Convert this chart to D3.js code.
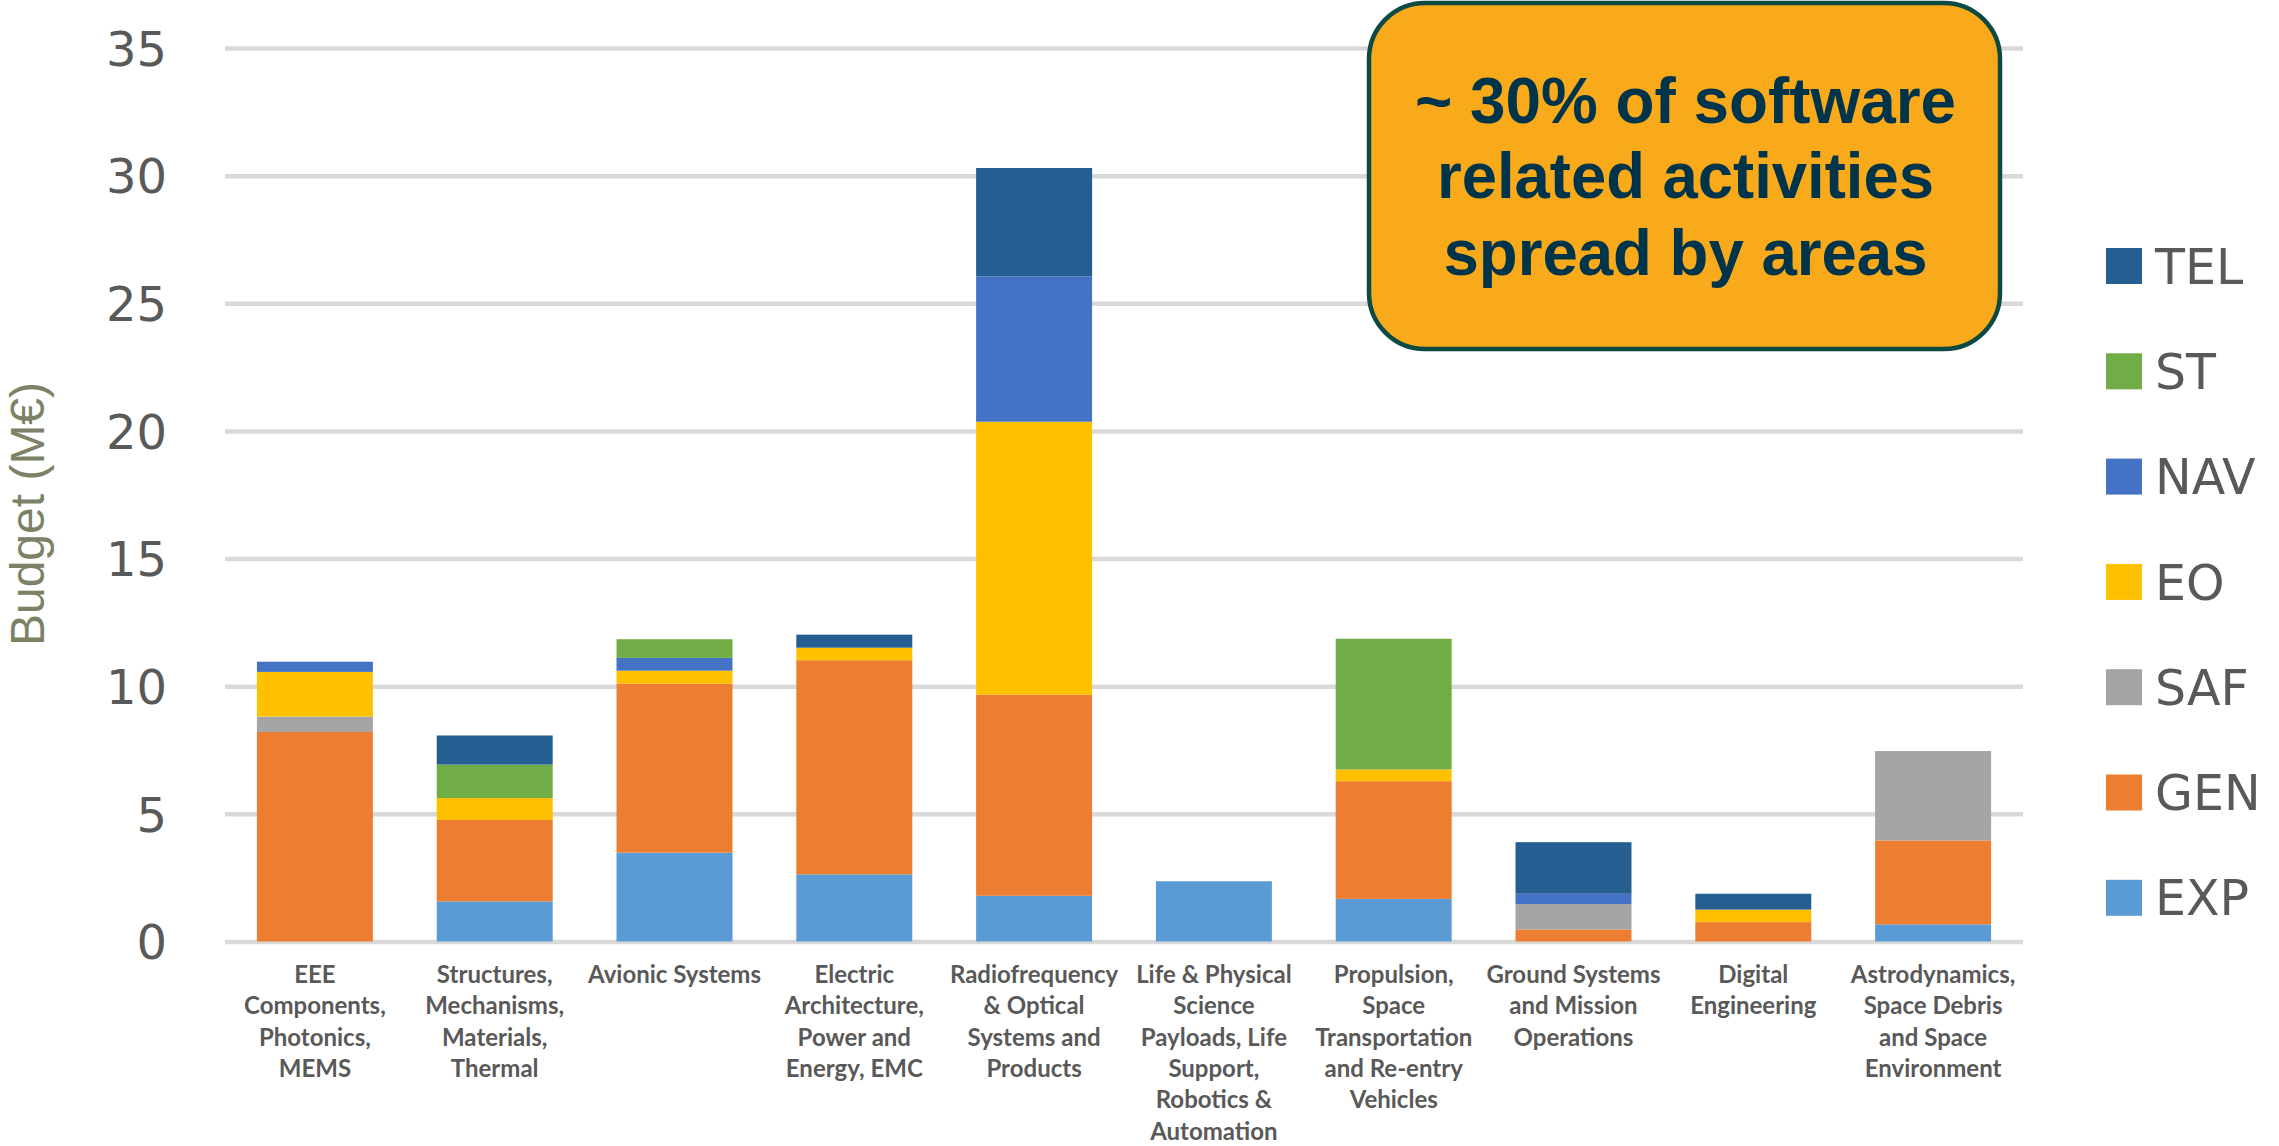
<!DOCTYPE html>
<html>
<head>
<meta charset="utf-8">
<script src="https://cdn.jsdelivr.net/npm/d3@7"></script>
<style>
  html, body { margin: 0; padding: 0; background: #ffffff; }
  svg { display: block; }
</style>
</head>
<body>
<svg id="chart" width="2279" height="1146"></svg>
<script>
// ---------------- DATA ----------------
const categories = [
  ["EEE", "Components,", "Photonics,", "MEMS"],
  ["Structures,", "Mechanisms,", "Materials,", "Thermal"],
  ["Avionic Systems"],
  ["Electric", "Architecture,", "Power and", "Energy, EMC"],
  ["Radiofrequency", "& Optical", "Systems and", "Products"],
  ["Life & Physical", "Science", "Payloads, Life", "Support,", "Robotics &", "Automation"],
  ["Propulsion,", "Space", "Transportation", "and Re-entry", "Vehicles"],
  ["Ground Systems", "and Mission", "Operations"],
  ["Digital", "Engineering"],
  ["Astrodynamics,", "Space Debris", "and Space", "Environment"]
];
const seriesNames = ["EXP", "GEN", "SAF", "EO", "NAV", "ST", "TEL"]; // bottom -> top
const EXP = [0,    1.57, 3.48, 2.63, 1.79,  2.36, 1.67, 0,    0,    0.67];
const GEN = [8.21, 3.19, 6.62, 8.39, 7.88,  0,    4.61, 0.47, 0.76, 3.29];
const SAF = [0.60, 0,    0,    0,    0,     0,    0,    1.00, 0,    3.50];
const EO  = [1.75, 0.86, 0.51, 0.49, 10.69, 0,    0.46, 0,    0.49, 0];
const NAV = [0.40, 0,    0.50, 0,    5.69,  0,    0,    0.40, 0,    0];
const ST  = [0,    1.31, 0.73, 0,    0,     0,    5.12, 0,    0,    0];
const TEL = [0,    1.14, 0,    0.51, 4.25,  0,    0,    2.02, 0.62, 0];
const seriesColors = ["#5B9BD5", "#ED7D31", "#A5A5A5", "#FFC000", "#4472C4", "#70AD47", "#255E91"];
const legendOrder = ["TEL", "ST", "NAV", "EO", "SAF", "GEN", "EXP"];
const yTicks = [0, 5, 10, 15, 20, 25, 30, 35];
const yTitle = "Budget (M€)";
const calloutLines = ["~ 30% of software", "related activities", "spread by areas"];

// ---------------- LAYOUT ----------------
const svg = d3.select("#chart");
const plot = { left: 225, right: 2023, top: 48, bottom: 941.5 };

const seriesData = { EXP, GEN, SAF, EO, NAV, ST, TEL };
const rows = categories.map((c, i) => {
  const r = { idx: i };
  seriesNames.forEach(s => r[s] = seriesData[s][i]);
  return r;
});

const x = d3.scaleBand()
  .domain(d3.range(categories.length))
  .range([plot.left, plot.right])
  .paddingInner(0.355)
  .paddingOuter(0.1775);

const y = d3.scaleLinear().domain([0, 35]).range([plot.bottom, plot.top]);
const color = d3.scaleOrdinal().domain(seriesNames).range(seriesColors);

// gridlines + tick labels
const yAxis = d3.axisLeft(y)
  .tickValues(yTicks)
  .tickSizeInner(-(plot.right - plot.left))
  .tickSizeOuter(0)
  .tickPadding(58)
  .tickFormat(d3.format("d"));

const gAxis = svg.append("g")
  .attr("transform", `translate(${plot.left},0)`)
  .call(yAxis);
gAxis.select(".domain").remove();
gAxis.selectAll(".tick line")
  .attr("stroke", "#d9d9d9")
  .attr("stroke-width", 4.5);
gAxis.selectAll(".tick text")
  .attr("fill", "#595959")
  .attr("font-family", "'DejaVu Sans', Verdana, sans-serif")
  .attr("font-size", 48)
  .attr("dy", "0.36em");

// y title
svg.append("text")
  .attr("transform", `translate(27,514) rotate(-90)`)
  .attr("text-anchor", "middle")
  .attr("dominant-baseline", "central")
  .attr("fill", "#7b8266")
  .attr("font-family", "'Liberation Sans', Arial, sans-serif")
  .attr("font-size", 48)
  .text(yTitle);

// stacked bars
const stack = d3.stack().keys(seriesNames);
const stacked = stack(rows);

svg.append("g")
  .selectAll("g")
  .data(stacked)
  .join("g")
  .attr("fill", d => color(d.key))
  .selectAll("rect")
  .data(d => d.filter(p => p[1] - p[0] > 0))
  .join("rect")
  .attr("x", d => x(d.data.idx))
  .attr("width", x.bandwidth())
  .attr("y", d => y(d[1]))
  .attr("height", d => y(d[0]) - y(d[1]));

// x labels
const xl = svg.append("g");
categories.forEach((lines, i) => {
  const t = xl.append("text")
    .attr("text-anchor", "middle")
    .attr("fill", "#595959")
    .attr("font-family", "Lato, 'Open Sans', sans-serif")
    .attr("font-weight", 700)
    .attr("font-size", 24);
  lines.forEach((ln, j) => {
    t.append("tspan")
      .attr("x", x(i) + x.bandwidth() / 2)
      .attr("y", 983 + j * 31.3)
      .text(ln);
  });
});

// legend
const lg = svg.append("g");
legendOrder.forEach((name, i) => {
  const cy = 266 + i * 105.3;
  lg.append("rect")
    .attr("x", 2106).attr("y", cy - 18)
    .attr("width", 36).attr("height", 36)
    .attr("fill", color(name));
  lg.append("text")
    .attr("x", 2155).attr("y", cy)
    .attr("dy", "0.36em")
    .attr("fill", "#595959")
    .attr("font-family", "'DejaVu Sans', Verdana, sans-serif")
    .attr("font-size", 49)
    .text(name);
});

// callout box
const box = { x: 1369, y: 3, w: 631, h: 346 };
svg.append("rect")
  .attr("x", box.x).attr("y", box.y)
  .attr("width", box.w).attr("height", box.h)
  .attr("rx", 56).attr("ry", 56)
  .attr("fill", "#F9AA1B")
  .attr("stroke", "#0c4a43")
  .attr("stroke-width", 4.5);

const calloutWidths = [541, 497, 484];
const calloutBaselines = [123, 198, 275];
calloutLines.forEach((ln, i) => {
  svg.append("text")
    .attr("x", box.x + box.w / 2 + 1)
    .attr("y", calloutBaselines[i])
    .attr("text-anchor", "middle")
    .attr("fill", "#00344B")
    .attr("font-family", "'Liberation Sans', Arial, sans-serif")
    .attr("font-weight", 700)
    .attr("font-size", 64)
    .attr("textLength", calloutWidths[i])
    .attr("lengthAdjust", "spacingAndGlyphs")
    .text(ln);
});
</script>
</body>
</html>
